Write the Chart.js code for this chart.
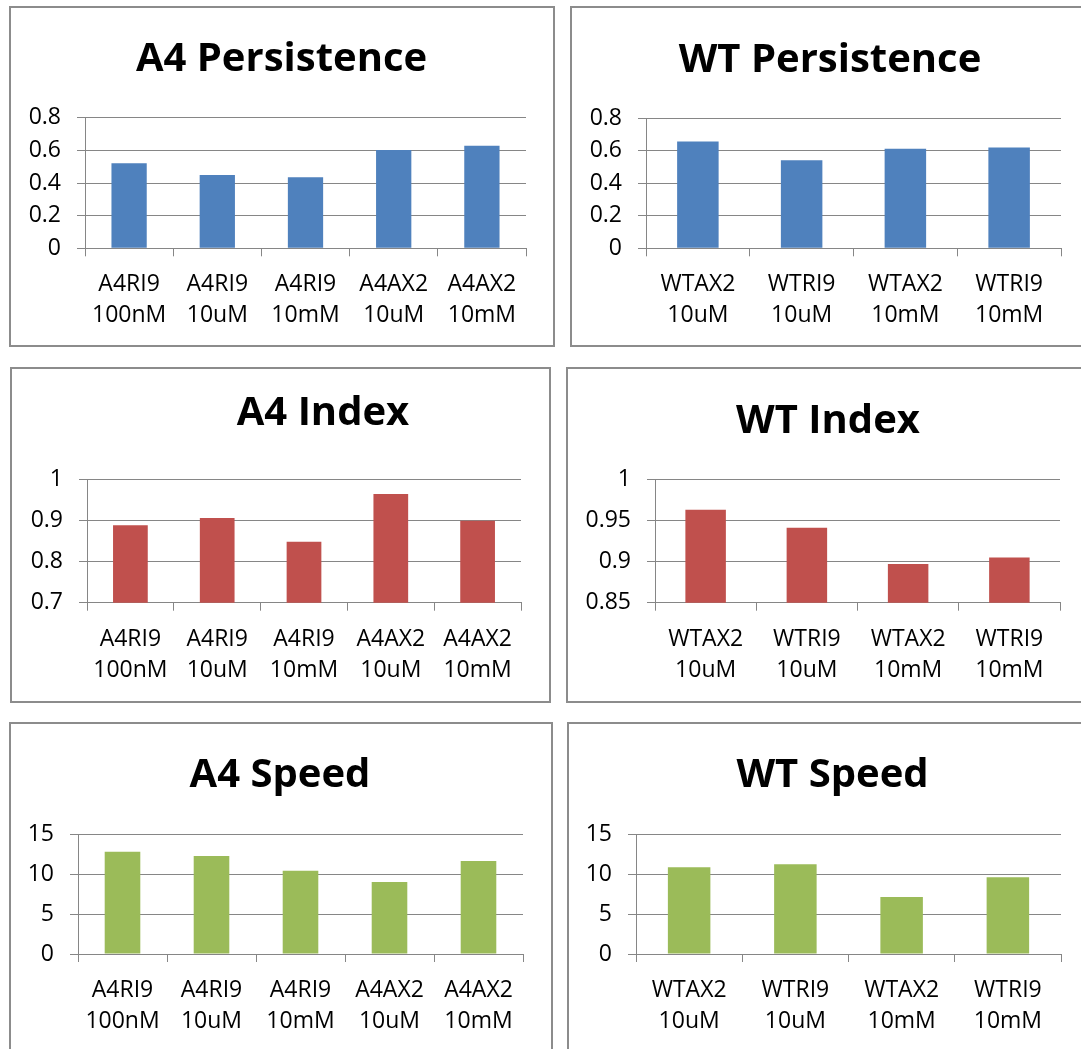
<!DOCTYPE html>
<html>
<head>
<meta charset="utf-8">
<script src="https://cdn.jsdelivr.net/npm/chart.js@4.4.0/dist/chart.umd.min.js"></script>
<style>
	html, body { margin: 0; padding: 0; background: #fff; width: 1081px; height: 1049px; overflow: hidden; }
	.panel { position: absolute; box-sizing: border-box; border: 2px solid #8c8c8c; background: #fff; }
	.panel canvas { position: absolute; left: 0; top: 0; }
</style>
</head>
<body>
<script>
	// categories
	const a4Labels = [['A4RI9', '100nM'], ['A4RI9', '10uM'], ['A4RI9', '10mM'], ['A4AX2', '10uM'], ['A4AX2', '10mM']];
	const wtLabels = [['WTAX2', '10uM'], ['WTRI9', '10uM'], ['WTAX2', '10mM'], ['WTRI9', '10mM']];

	// series values
	const a4Persistence = [0.521, 0.449, 0.435, 0.602, 0.628];
	const wtPersistence = [0.655, 0.541, 0.611, 0.619];
	const a4Index = [0.888, 0.906, 0.848, 0.964, 0.899];
	const wtIndex = [0.963, 0.941, 0.897, 0.905];
	const a4Speed = [12.82, 12.28, 10.44, 9.02, 11.65];
	const wtSpeed = [10.86, 11.24, 7.14, 9.61];

	// y tick labels
	const persistenceTicks = [0, 0.2, 0.4, 0.6, 0.8];
	const a4IndexTicks = [0.7, 0.8, 0.9, 1];
	const wtIndexTicks = [0.85, 0.9, 0.95, 1];
	const speedTicks = [0, 5, 10, 15];

	const BLUE = '#4F81BD', RED = '#C0504D', GREEN = '#9BBB59';
	const GRID = '#868686';
	const TITLE_SIZE = 40, TICK_SIZE = 23;

	Chart.defaults.font.family = "'Open Sans', sans-serif";
	Chart.defaults.color = '#000';

	// box: panel frame [left, top, width, height], plot: [left, top, right, bottom], head: title centre
	const panels = [
		{ title: 'A4 Persistence', labels: a4Labels, values: a4Persistence, ticks: persistenceTicks, color: BLUE,
			box: [9, 6, 546, 341], plot: [85, 117.7, 526, 248.3], head: [281.5, 60] },
		{ title: 'WT Persistence', labels: wtLabels, values: wtPersistence, ticks: persistenceTicks, color: BLUE,
			box: [570, 6, 530, 341], plot: [646, 118, 1061, 248.3], head: [830, 61] },
		{ title: 'A4 Index', labels: a4Labels, values: a4Index, ticks: a4IndexTicks, color: RED,
			box: [10, 367, 541, 336], plot: [87, 479.3, 521, 602.7], head: [323, 414] },
		{ title: 'WT Index', labels: wtLabels, values: wtIndex, ticks: wtIndexTicks, color: RED,
			box: [566, 367, 530, 336], plot: [655, 479.3, 1060, 602.7], head: [828, 422] },
		{ title: 'A4 Speed', labels: a4Labels, values: a4Speed, ticks: speedTicks, color: GREEN,
			box: [9, 722, 544, 340], plot: [78, 834.3, 523, 954], head: [280, 775.5] },
		{ title: 'WT Speed', labels: wtLabels, values: wtSpeed, ticks: speedTicks, color: GREEN,
			box: [567, 722, 530, 340], plot: [636, 834.3, 1061, 954], head: [832.5, 776] }
	];

	// moves the title block so its centre sits where the original one was
	const titleShift = {
		id: 'titleShift',
		afterLayout: (chart, args, opts) => {
			const tb = chart.titleBlock;
			if (!tb) { return; }
			const d = opts.cx - (tb.left + tb.right) / 2;
			tb.left += d;
			tb.right += d;
		}
	};

	panels.forEach(p => {
		const [bl, bt, bw, bh] = p.box;
		const cl = bl + 2, ct = bt + 2, cw = bw - 4, ch = bh - 4;
		const [pl, pt, pr, pb] = p.plot;

		const div = document.createElement('div');
		div.className = 'panel';
		div.style.left = bl + 'px';
		div.style.top = bt + 'px';
		div.style.width = bw + 'px';
		div.style.height = bh + 'px';
		const canvas = document.createElement('canvas');
		canvas.width = cw;
		canvas.height = ch;
		div.appendChild(canvas);
		document.body.appendChild(div);

		const yWidth = pl - cl;
		const xHeight = ct + ch - pb;
		const padRight = cl + cw - pr;
		const titleH = pt - ct;
		const lh = TITLE_SIZE * 1.2;
		const padTop = p.head[1] - ct - lh / 2;

		new Chart(canvas, {
			type: 'bar',
			data: {
				labels: p.labels,
				datasets: [{
					data: p.values,
					backgroundColor: p.color,
					borderWidth: 0,
					barPercentage: 0.4,
					categoryPercentage: 1
				}]
			},
			options: {
				responsive: false,
				animation: false,
				layout: { padding: { left: 0, right: padRight, top: 0, bottom: 0 } },
				plugins: {
					legend: { display: false },
					tooltip: { enabled: false },
					title: {
						display: true,
						text: p.title,
						color: '#000',
						font: { size: TITLE_SIZE, weight: 'bold', lineHeight: 1.2 },
						padding: { top: padTop, bottom: titleH - lh - padTop }
					},
					titleShift: { cx: p.head[0] - cl }
				},
				scales: {
					x: {
						grid: { drawOnChartArea: false, drawTicks: true, tickLength: 8, color: GRID },
						border: { color: GRID },
						ticks: { color: '#000', font: { size: TICK_SIZE, lineHeight: 1.35 }, padding: 13, maxRotation: 0, autoSkip: false },
						afterFit: s => { s.height = xHeight; }
					},
					y: {
						min: p.ticks[0],
						max: p.ticks[p.ticks.length - 1],
						afterBuildTicks: s => { s.ticks = p.ticks.map(v => ({ value: v })); },
						grid: { color: GRID, tickLength: 8 },
						border: { color: GRID },
						ticks: { color: '#000', font: { size: TICK_SIZE }, padding: 16, callback: v => String(v) },
						afterFit: s => { s.width = yWidth; }
					}
				}
			},
			plugins: [titleShift]
		});
	});
</script>
</body>
</html>
